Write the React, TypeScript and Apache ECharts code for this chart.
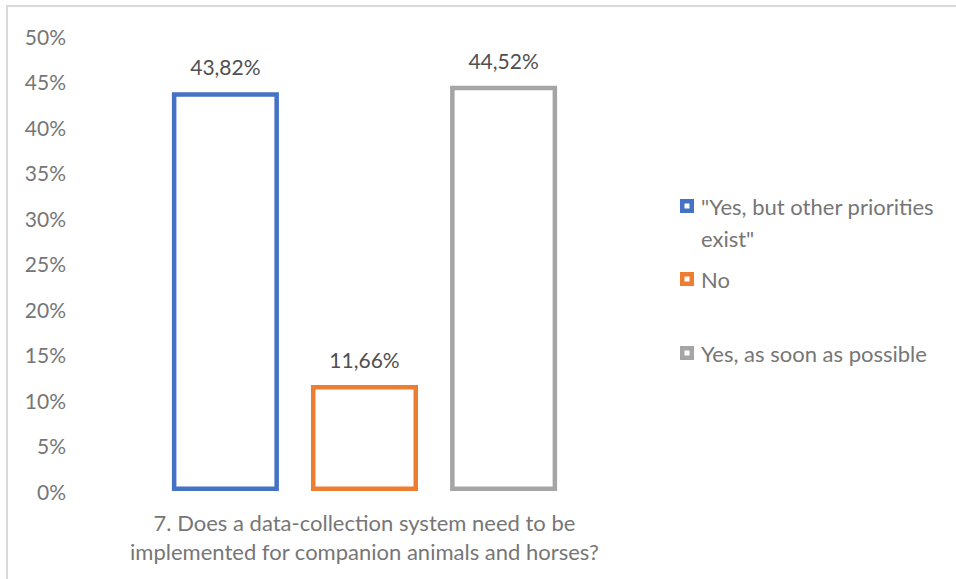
import React, { useEffect, useRef } from 'react';
import * as echarts from 'echarts';

const categories = ['7. Does a data-collection system need to be\nimplemented for companion animals and horses?'];
const seriesNames = ['"Yes, but other priorities exist"', 'No', 'Yes, as soon as possible'];
const legendLabels = ['\n"Yes, but other priorities\nexist"', 'No', 'Yes, as soon as possible'];
const seriesValues = [[43.82], [11.66], [44.52]];
const seriesColors = ['#4472C4', '#ED7D31', '#A5A5A5'];
const yMin = 0;
const yMax = 50;
const yInterval = 5;

const FONT = 'Lato, Carlito, "Noto Sans", sans-serif';
const AXIS_COLOR = '#767676';
const LABEL_COLOR = '#505050';
const LEGEND_ICON = 'path://M0,0H14V14H0Z M4.5,4.5V9.5H9.5V4.5Z';

export default function App() {
  const ref = useRef<HTMLDivElement>(null);
  useEffect(() => {
    if (!ref.current) return;
    const chart = echarts.init(ref.current, undefined, { renderer: 'svg' });
    const legendTops = [156, 261, 335];
    chart.setOption({
      animation: false,
      backgroundColor: '#ffffff',
      graphic: [
        {
          type: 'rect',
          shape: { x: 7, y: 6, width: 1000, height: 700 },
          style: { fill: 'none', stroke: '#d9d9d9', lineWidth: 2 },
          silent: true,
        },
      ],
      grid: { left: 70, right: 297, top: 36, bottom: 88, containLabel: false },
      xAxis: {
        type: 'category',
        data: categories,
        axisLine: { show: false },
        axisTick: { show: false },
        axisLabel: {
          margin: 17,
          color: AXIS_COLOR,
          fontFamily: FONT,
          fontSize: 22,
          lineHeight: 29,
          align: 'center',
        },
      },
      yAxis: {
        type: 'value',
        min: yMin,
        max: yMax,
        interval: yInterval,
        splitLine: { show: false },
        axisLine: { show: false },
        axisTick: { show: false },
        axisLabel: {
          margin: 4,
          color: AXIS_COLOR,
          fontFamily: FONT,
          fontSize: 21,
          padding: [0, 0, 3, 0],
          formatter: (v: number) => `${v}%`,
        },
      },
      legend: seriesNames.map((name, i) => ({
        data: [name],
        orient: 'vertical',
        left: 680,
        top: legendTops[i],
        padding: 0,
        itemWidth: 14,
        itemHeight: 14,
        icon: LEGEND_ICON,
        selectedMode: false,
        itemStyle: { color: seriesColors[i], borderWidth: 0 },
        formatter: () => legendLabels[i],
        textStyle: {
          color: AXIS_COLOR,
          fontFamily: FONT,
          fontSize: 22,
          lineHeight: 32,
          padding: [0, 0, 4, 2],
        },
      })),
      series: seriesNames.map((name, i) => ({
        type: 'bar',
        name,
        data: seriesValues[i],
        barWidth: 107,
        barGap: '30%',
        itemStyle: { color: '#ffffff', borderColor: seriesColors[i], borderWidth: 4.5 },
        label: {
          show: true,
          position: 'top',
          distance: 15,
          color: LABEL_COLOR,
          fontFamily: FONT,
          fontSize: 21,
          formatter: (p: any) => `${Number(p.value).toFixed(2).replace('.', ',')}%`,
        },
      })),
    });
    return () => chart.dispose();
  }, []);
  return (
    <div
      ref={ref}
      style={{ position: 'fixed', left: 0, top: 0, width: 956, height: 579 }}
    />
  );
}
